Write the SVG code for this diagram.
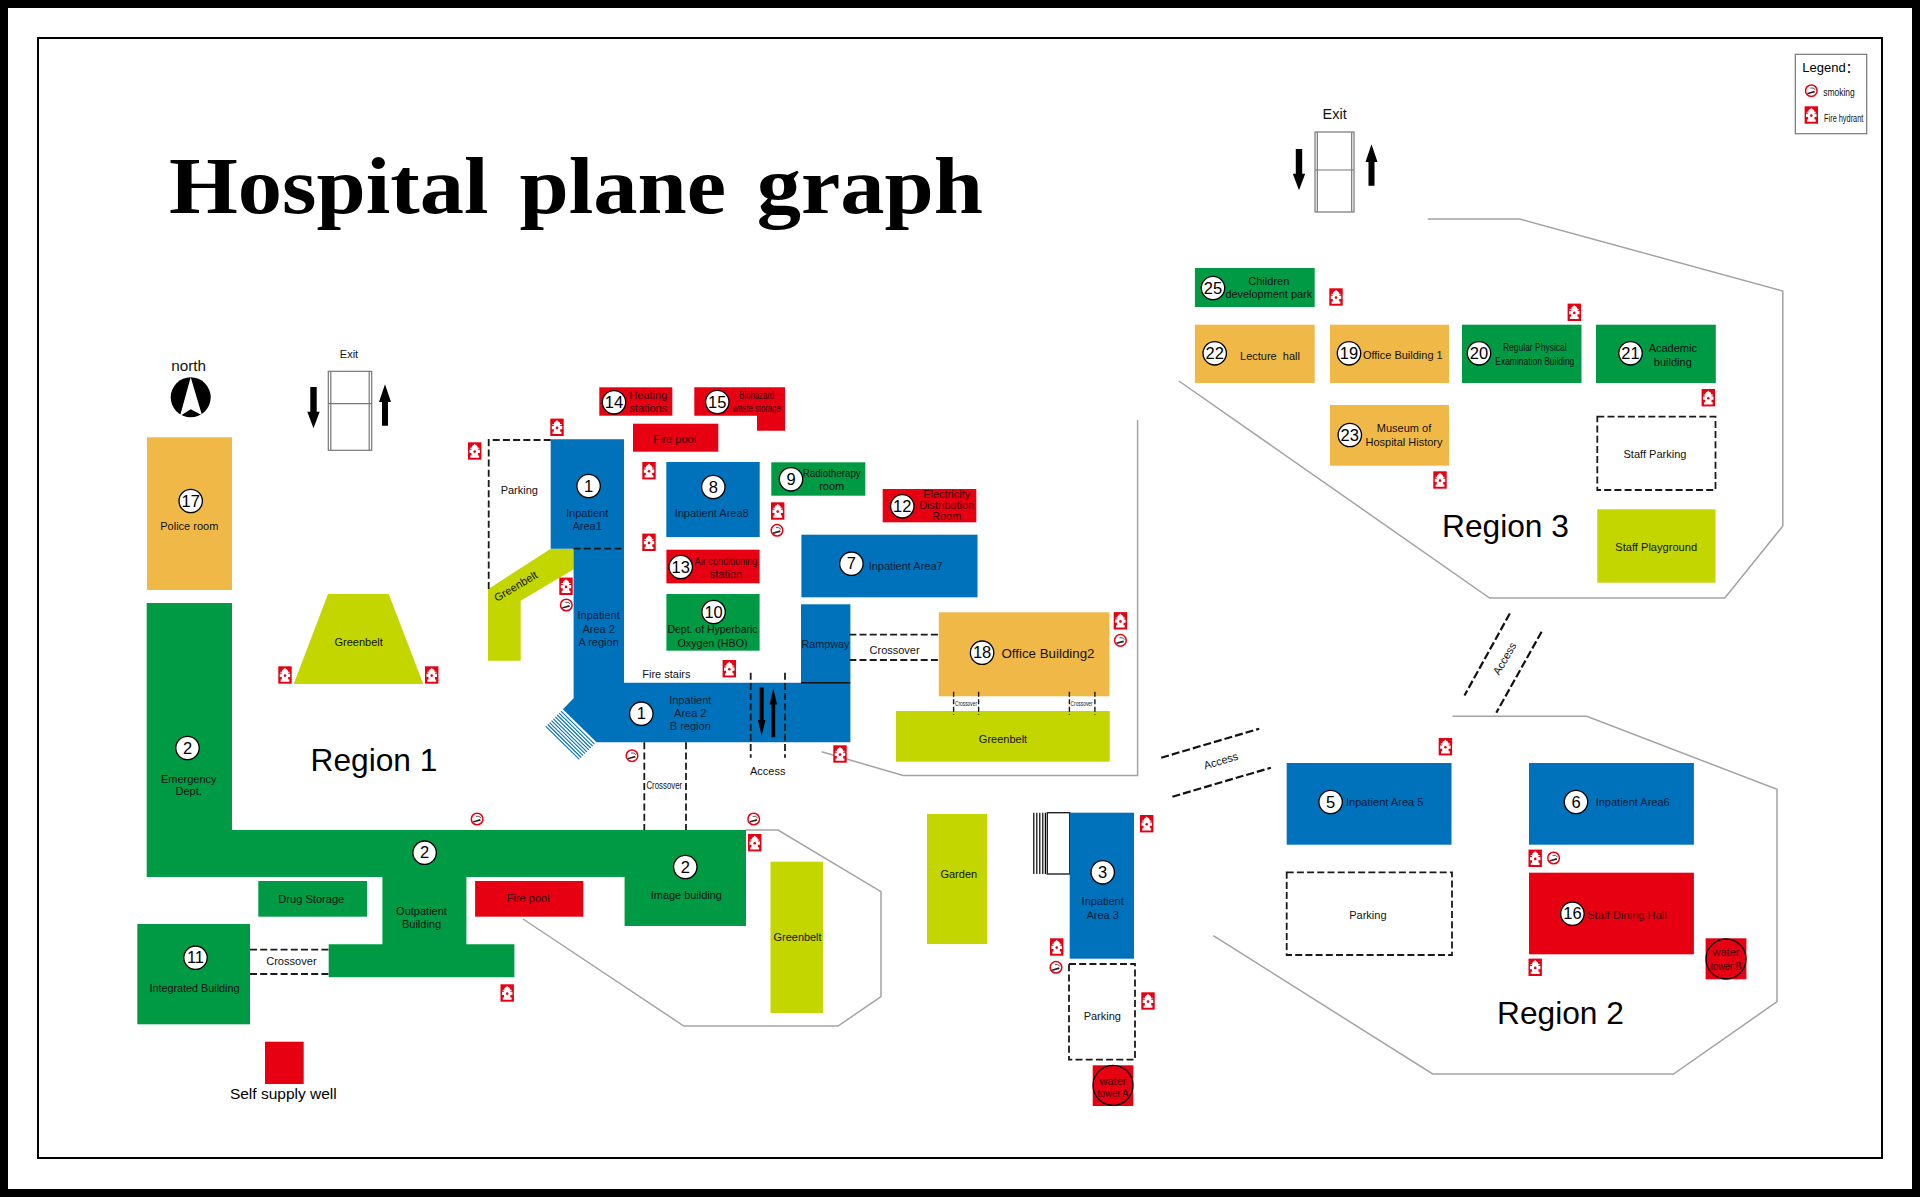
<svg xmlns="http://www.w3.org/2000/svg" xmlns:xlink="http://www.w3.org/1999/xlink" width="1920" height="1197" viewBox="0 0 1920 1197">
<style>
text{font-family:"Liberation Sans",Arial,sans-serif;font-size:11px;fill:#111;text-anchor:middle}
.blue{fill:#0072bc}.green{fill:#009a44}.orange{fill:#f0b947}.olive{fill:#c3d600}.red{fill:#e60012}
.onb{fill:#08203a}.onr{fill:#3a060c}
.num{font-size:16.5px;fill:#000}
.badge{fill:#fff;stroke:#000;stroke-width:1.3}
.region{font-size:31.7px;fill:#000}
.gray{fill:none;stroke:#a3a3a3;stroke-width:1.5}
.dash{fill:none;stroke:#1a1a1a;stroke-width:1.8;stroke-dasharray:7 3.2}
.dashs{fill:none;stroke:#1a1a1a;stroke-width:1.4;stroke-dasharray:5 2.5}
.dashb{fill:none;stroke:#111;stroke-width:2.2;stroke-dasharray:8 3}
.door{fill:#fff;stroke:#777;stroke-width:1.2}
.tower{fill:none;stroke:#000;stroke-width:1.3}
</style>
<defs>
<g id="hyd"><rect x="-6.7" y="-8.7" width="13.4" height="17.4" fill="#e60012"/><path fill="#fff" d="M0,-7.2L1,-6C2.5,-5.6 3,-4.5 3,-3.2H4.6V-2.2H3.2V-1.2H5.2V2H3.2V4.5H4.4V6.8H-4.4V4.5H-3.2V2H-5.2V-1.2H-3.2V-2.2H-4.6V-3.2H-3C-3,-4.5 -2.5,-5.6 -1,-6Z"/><circle cy="0.6" r="1.3" fill="#e60012"/></g>
<g id="smk"><circle r="5.8" fill="#fff" stroke="#e60012" stroke-width="1.5"/><path d="M-4.2,2.2L3,0L3.6,1.8L-3.6,3.6Z" fill="#222"/><path d="M-1,-2.6Q2,-3.6 4,-1" fill="none" stroke="#555" stroke-width="1"/></g>
<g id="dn"><path d="M-3.2,-20.5H3.2V4.2H6.2L0,20.8L-6.2,4.2H-3.2Z" fill="#000"/></g>
<g id="up"><path d="M-3,20.7H3V-3H6L0,-20.7L-6,-3H-3Z" fill="#000"/></g>
</defs>
<rect width="1920" height="1197" fill="#fff"/>
<rect x="4" y="4" width="1912" height="1189" fill="none" stroke="#000" stroke-width="8"/>
<rect x="38" y="38" width="1844" height="1120" fill="none" stroke="#000" stroke-width="2"/>
<text x="169" y="212.7" style="font-family:'Liberation Serif',serif;font-weight:bold;font-size:81px;fill:#000;text-anchor:start;word-spacing:8px" textLength="814" lengthAdjust="spacingAndGlyphs">Hospital plane graph</text>

<g id="region-outlines">
<polyline class="gray" points="821.7,751.7 903,775.5 1137.6,775.5 1137.6,420"/>
<polyline class="gray" points="745.5,830 778,830 881,891.7 881,996.7 838,1026 683.8,1026 523,919"/>
<polyline class="gray" points="1452.6,716.3 1586.7,716.3 1777,789.3 1777,1001.7 1673.5,1074 1432.7,1074 1213.3,935.7"/>
<polyline class="gray" points="1427.8,219 1519.6,219 1782.8,291 1782.8,526 1724.8,598 1489.6,598 1178.9,381"/>
</g>

<g id="north"><text x="188.7" y="371" style="font-size:15.3px">north</text><circle cx="190.7" cy="397.3" r="20" fill="#000"/><path d="M190.7,377.3L180,416L190.7,409.3L202,415.3Z" fill="#fff"/></g>
<g id="exit-1"><text x="349" y="358" style="font-size:11px">Exit</text><rect class="door" x="328.3" y="371.3" width="43.4" height="79"/><path class="door" d="M330.8,371.3V450.3M369.2,371.3V450.3M328.3,403.7H371.7"/><use xlink:href="#dn" href="#dn" x="313.5" y="407.5"/><use xlink:href="#up" href="#up" x="385" y="405"/></g>
<g id="exit-2"><text x="1334.7" y="118.5" style="font-size:14.5px">Exit</text><rect class="door" x="1315" y="132" width="39" height="80"/><path class="door" d="M1317.3,132V212M1351.7,132V212M1315,170H1354"/><use xlink:href="#dn" href="#dn" x="1299" y="169.5"/><use xlink:href="#up" href="#up" x="1371.5" y="165"/></g>

<g id="node-17"><rect class="orange" x="147" y="437.3" width="85" height="152.7"/><circle class="badge" cx="190.7" cy="501" r="11.7"/><text class="num" x="190.7" y="506.7">17</text><text x="189.3" y="529.5">Police room</text></g>
<g id="greenbelt-trapezoid"><path class="olive" d="M328,594H388.7L423.3,684H293.7Z"/><text x="358.7" y="645.8">Greenbelt</text></g>
<g id="greenbelt-strip"><path class="olive" d="M550.7,548.7H573.7V569.3L520.7,600.7V660.7H488V589.3Z"/><text transform="translate(517.7,589.5) rotate(-31)">Greenbelt</text></g>
<g id="node-2"><path class="green" d="M146.7,603H232V830H746V926H624.6V877H466.4V944.3H514.4V977.3H328.7V944.3H382.4V877H146.7Z"/>
<circle class="badge" cx="187.5" cy="748" r="11.7"/><text class="num" x="187.5" y="753.7">2</text><text x="188.7" y="782.7">Emergency</text><text x="188.7" y="795.2">Dept.</text>
<circle class="badge" cx="424.6" cy="852.7" r="11.7"/><text class="num" x="424.6" y="858.4">2</text><text x="421.5" y="914.8">Outpatient</text><text x="421.5" y="928.1">Building</text>
<circle class="badge" cx="685.3" cy="867" r="11.7"/><text class="num" x="685.3" y="872.7">2</text><text x="686.3" y="898.5" textLength="71" lengthAdjust="spacingAndGlyphs">Image building</text></g>
<g id="node-1"><path class="blue" d="M550.7,439.3H624V682.7H850.4V742.3H596.4L562.9,709.3L573.6,698.3V548.7H550.7Z"/>
<path d="M561,711.2L594.5,744.2M559.1,713.1L592.6,746.1M557.2,715L590.7,748M555.3,716.9L588.8,749.9M553.4,718.8L586.9,751.8M551.5,720.7L585,753.7M549.6,722.6L583.1,755.6M547.7,724.5L581.2,757.5M545.8,726.4L579.3,759.4" stroke="#0072bc" stroke-width="1.1" fill="none"/>
<circle class="badge" cx="588.6" cy="486" r="11.7"/><text class="num" x="588.6" y="491.7">1</text><text class="onb" x="587.1" y="516.5">Inpatient</text><text class="onb" x="587.1" y="529.8">Area1</text>
<text class="onb" x="598.6" y="619.1">Inpatient</text><text class="onb" x="598.6" y="632.5">Area 2</text><text class="onb" x="598.6" y="645.8">A region</text>
<circle class="badge" cx="641.3" cy="713.7" r="11.7"/><text class="num" x="641.3" y="719.4">1</text><text class="onb" x="690.3" y="703.5">Inpatient</text><text class="onb" x="690.3" y="716.8">Area 2</text><text class="onb" x="690.3" y="729.8">B region</text>
<path d="M759.7,687.3H763.7V720H765.5L761.7,736L757.9,720H759.7Z" fill="#000"/><path d="M771.4,737.3H775.2V704.5H777L773.3,688.3L769.6,704.5H771.4Z" fill="#000"/></g>
<g id="rampway"><rect class="blue" x="801" y="604.3" width="49.4" height="78.4"/><path d="M801,682.7H850.4" stroke="#111" stroke-width="1.4"/><text class="onb" x="825.4" y="647.8" textLength="48" lengthAdjust="spacingAndGlyphs">Rampway</text></g>
<g id="fire-stairs"><text x="666.4" y="677.8">Fire stairs</text></g>
<g id="access-label-1"><text x="767.7" y="774.8">Access</text></g>

<g id="node-14"><rect class="red" x="599.3" y="387.3" width="73" height="28.4"/><circle class="badge" cx="614" cy="402.3" r="11.7"/><text class="num" x="614" y="408">14</text><text class="onr" x="648.3" y="398.8">Heating</text><text class="onr" x="648.3" y="412.1">stations</text></g>
<g id="node-15"><path class="red" d="M694.3,387.3H785V430.7H757V415.7H694.3Z"/><circle class="badge" cx="717.3" cy="402" r="11.7"/><text class="num" x="717.3" y="407.7">15</text><text class="onr" x="756.7" y="398.8" textLength="34.7" lengthAdjust="spacingAndGlyphs">Biohazard</text><text class="onr" x="756.7" y="411.5" textLength="48" lengthAdjust="spacingAndGlyphs">waste storage</text></g>
<g id="fire-pool-1"><rect class="red" x="633" y="423.7" width="85.3" height="28"/><text class="onr" x="674.7" y="442.5">Fire pool</text></g>
<g id="node-8"><rect class="blue" x="666.3" y="462" width="93.4" height="75"/><circle class="badge" cx="713.3" cy="487" r="11.7"/><text class="num" x="713.3" y="492.7">8</text><text class="onb" x="711.7" y="516.8">Inpatient Area8</text></g>
<g id="node-9"><rect class="green" x="771.3" y="462.3" width="94" height="33.4"/><circle class="badge" cx="791" cy="479.3" r="11.7"/><text class="num" x="791" y="485">9</text><text x="831.7" y="477.1" textLength="58" lengthAdjust="spacingAndGlyphs">Radiotherapy</text><text x="831.7" y="490.1">room</text></g>
<g id="node-12"><rect class="red" x="882.7" y="489" width="93.6" height="33.3"/><circle class="badge" cx="902.3" cy="506.3" r="11.7"/><text class="num" x="902.3" y="512">12</text><text class="onr" x="946.7" y="497.5">Electricity</text><text class="onr" x="946.7" y="508.5">Distribution</text><text class="onr" x="946.7" y="520.1">Room</text></g>
<g id="node-7"><rect class="blue" x="801.4" y="534.7" width="176.1" height="62.6"/><circle class="badge" cx="851.4" cy="563.7" r="11.7"/><text class="num" x="851.4" y="569.4">7</text><text class="onb" x="905.7" y="570.1">Inpatient Area7</text></g>
<g id="node-13"><rect class="red" x="666.4" y="549.7" width="93.2" height="33.6"/><circle class="badge" cx="680.7" cy="567" r="11.7"/><text class="num" x="680.7" y="572.7">13</text><text class="onr" x="726" y="564.8" textLength="63" lengthAdjust="spacingAndGlyphs">Air conditioning</text><text class="onr" x="726" y="577.8">station</text></g>
<g id="node-10"><rect class="green" x="666.4" y="594" width="93.2" height="56.7"/><circle class="badge" cx="713.6" cy="612" r="11.7"/><text class="num" x="713.6" y="617.7">10</text><text x="712.5" y="633.1" textLength="90" lengthAdjust="spacingAndGlyphs">Dept. of Hyperbaric</text><text x="712.5" y="646.5" textLength="70" lengthAdjust="spacingAndGlyphs">Oxygen (HBO)</text></g>
<g id="node-18"><rect class="orange" x="938.8" y="612.3" width="170.6" height="84"/><circle class="badge" cx="982.1" cy="652.7" r="11.7"/><text class="num" x="982.1" y="658.4">18</text><text x="1048" y="658" style="font-size:12.5px" textLength="93" lengthAdjust="spacingAndGlyphs">Office Building2</text></g>
<g id="greenbelt-office"><rect class="olive" x="896" y="711" width="213.7" height="50.7"/><text x="1003" y="743.4">Greenbelt</text></g>

<g id="drug-storage"><rect class="green" x="258.3" y="881" width="108.7" height="35.7"/><text x="311.3" y="902.8" textLength="66" lengthAdjust="spacingAndGlyphs">Drug Storage</text></g>
<g id="fire-pool-2"><rect class="red" x="475.1" y="881" width="108.2" height="35.7"/><text class="onr" x="528.2" y="902.1" textLength="43" lengthAdjust="spacingAndGlyphs">Fire pool</text></g>
<g id="node-11"><rect class="green" x="137.3" y="924" width="112.7" height="100.3"/><circle class="badge" cx="195.5" cy="957.7" r="11.7"/><text class="num" x="195.5" y="963.4">11</text><text x="194.5" y="991.8" textLength="90" lengthAdjust="spacingAndGlyphs">Integrated Building</text></g>
<g id="greenbelt-right"><rect class="olive" x="770.5" y="861.7" width="52.5" height="151.3"/><text x="797.6" y="940.8" textLength="48" lengthAdjust="spacingAndGlyphs">Greenbelt</text></g>
<g id="self-supply-well"><rect class="red" x="265" y="1041.7" width="38.7" height="42.3"/><text x="283.3" y="1098.5" style="font-size:15.5px;fill:#000">Self supply well</text></g>
<g id="garden"><rect class="olive" x="927" y="814" width="60" height="130"/><text x="958.8" y="878.1">Garden</text></g>

<g id="node-3"><rect x="1047.3" y="812.7" width="22.4" height="61.3" fill="#fff" stroke="#222" stroke-width="1.4"/><path d="M1033.8,812.7V874M1036.8,812.7V874M1039.8,812.7V874M1042.8,812.7V874M1045.4,812.7V874" stroke="#000" stroke-width="1.2"/><rect class="blue" x="1069.7" y="812.7" width="64.3" height="146"/><circle class="badge" cx="1102.7" cy="872.3" r="11.7"/><text class="num" x="1102.7" y="878">3</text><text class="onb" x="1102.7" y="905.1">Inpatient</text><text class="onb" x="1102.7" y="918.5">Area 3</text></g>
<g id="parking-3"><rect class="dash" x="1069" y="964" width="66" height="95.7"/><text x="1102.3" y="1020.1">Parking</text></g>
<g id="tower-a"><rect class="red" x="1092.7" y="1065.3" width="40.6" height="40.7"/><circle class="tower" cx="1113" cy="1085.3" r="20"/><text class="onr" x="1113" y="1084.5">water</text><text class="onr" x="1113" y="1097.1" textLength="31" lengthAdjust="spacingAndGlyphs">tower A</text></g>
<g id="node-5"><rect class="blue" x="1286.7" y="763" width="164.8" height="81.7"/><circle class="badge" cx="1330.6" cy="802" r="11.7"/><text class="num" x="1330.6" y="807.7">5</text><text class="onb" x="1384.7" y="805.8" textLength="77.5" lengthAdjust="spacingAndGlyphs">Inpatient Area 5</text></g>
<g id="node-6"><rect class="blue" x="1529" y="763" width="164.9" height="81.7"/><circle class="badge" cx="1576" cy="802" r="11.7"/><text class="num" x="1576" y="807.7">6</text><text class="onb" x="1632.7" y="805.8" textLength="74" lengthAdjust="spacingAndGlyphs">Inpatient Area6</text></g>
<g id="node-16"><rect class="red" x="1529" y="872.7" width="164.9" height="81.6"/><circle class="badge" cx="1572.4" cy="913.7" r="11.7"/><text class="num" x="1572.4" y="919.4">16</text><text class="onr" x="1627" y="918.5" textLength="79.6" lengthAdjust="spacingAndGlyphs">Staff Dining Hall</text></g>
<g id="tower-b"><rect class="red" x="1705.6" y="938.3" width="40.8" height="41"/><circle class="tower" cx="1726" cy="959" r="20"/><text class="onr" x="1726" y="956.1">water</text><text class="onr" x="1726" y="969.5" textLength="31" lengthAdjust="spacingAndGlyphs">tower B</text></g>
<g id="parking-2"><rect class="dash" x="1286.7" y="872.3" width="165.3" height="82.7"/><text x="1367.9" y="918.8">Parking</text></g>

<g id="node-25"><rect class="green" x="1194.9" y="268" width="119.8" height="39"/><circle class="badge" cx="1213" cy="288" r="11.7"/><text class="num" x="1213" y="293.7">25</text><text x="1268.8" y="284.5">Children</text><text x="1268.8" y="297.8" textLength="86.6" lengthAdjust="spacingAndGlyphs">development park</text></g>
<g id="node-22"><rect class="orange" x="1194.9" y="324.7" width="119.8" height="58.3"/><circle class="badge" cx="1214.7" cy="353.3" r="11.7"/><text class="num" x="1214.7" y="359">22</text><text x="1270" y="359.8" xml:space="preserve">Lecture  hall</text></g>
<g id="node-19"><rect class="orange" x="1330" y="324.7" width="119" height="58.3"/><circle class="badge" cx="1349" cy="353.3" r="11.7"/><text class="num" x="1349" y="359">19</text><text x="1402.8" y="358.8" textLength="79.8" lengthAdjust="spacingAndGlyphs">Office Building 1</text></g>
<g id="node-20"><rect class="green" x="1462" y="324.7" width="119.5" height="58.3"/><circle class="badge" cx="1479" cy="353.3" r="11.7"/><text class="num" x="1479" y="359">20</text><text x="1534.8" y="351.1" textLength="63.6" lengthAdjust="spacingAndGlyphs">Regular Physical</text><text x="1534.8" y="364.5" textLength="79" lengthAdjust="spacingAndGlyphs">Examination Building</text></g>
<g id="node-21"><rect class="green" x="1596" y="324.7" width="119.8" height="58.3"/><circle class="badge" cx="1630.5" cy="353.3" r="11.7"/><text class="num" x="1630.5" y="359">21</text><text x="1672.8" y="352.1">Academic</text><text x="1672.8" y="365.5">building</text></g>
<g id="node-23"><rect class="orange" x="1330" y="405" width="119" height="60.7"/><circle class="badge" cx="1349.8" cy="435" r="11.7"/><text class="num" x="1349.8" y="440.7">23</text><text x="1404" y="432.1">Museum of</text><text x="1404" y="445.5" textLength="77" lengthAdjust="spacingAndGlyphs">Hospital History</text></g>
<g id="staff-parking"><rect class="dash" x="1597.3" y="416.7" width="118.2" height="73.3"/><text x="1655" y="457.5" textLength="63" lengthAdjust="spacingAndGlyphs">Staff Parking</text></g>
<g id="staff-playground"><rect class="olive" x="1597.3" y="509.3" width="118.2" height="73.4"/><text x="1656.2" y="550.5" textLength="81.8" lengthAdjust="spacingAndGlyphs">Staff Playground</text></g>
<g id="parking-1"><text x="519.3" y="493.5">Parking</text></g>

<g id="connectors">
<path class="dash" d="M550.7,440H488.7V590"/>
<path class="dash" d="M573.6,548.7H624"/>
<path class="dash" d="M750.7,672.7V757.7M785,672.7V757.7"/>
<path class="dash" d="M644.3,742.3V830M686,742.3V830"/>
<path class="dash" d="M849.3,634.7H939.3M849.3,660H939.3"/>
<path class="dash" d="M250,949.7H328.7M250,974H328.7"/>
<path class="dashs" d="M953.6,691.7V715M978.6,691.7V715M1069.4,691.7V715M1094.9,691.7V715"/>
<path class="dashb" d="M1161.2,757.7L1259.2,728.7M1172.4,796.7L1270.9,767.7"/>
<path class="dashb" d="M1509.8,613.5L1464.5,695.5M1541.6,631.8L1496.3,712.7"/>
<text x="664.3" y="788.5" textLength="35.7" lengthAdjust="spacingAndGlyphs">Crossover</text>
<text x="894.6" y="653.5">Crossover</text>
<text x="291.4" y="965.1" textLength="50.5" lengthAdjust="spacingAndGlyphs">Crossover</text>
<text x="966" y="705.5" style="font-size:6.5px" textLength="22" lengthAdjust="spacingAndGlyphs">Crossover</text>
<text x="1081.6" y="705.5" style="font-size:6.5px" textLength="22" lengthAdjust="spacingAndGlyphs">Crossover</text>
<text transform="translate(1221.9,764.5) rotate(-16.5)">Access</text>
<text transform="translate(1507.9,660.5) rotate(-60)">Access</text>
</g>

<g id="fire-hydrants">
<use xlink:href="#hyd" href="#hyd" x="285" y="675"/><use xlink:href="#hyd" href="#hyd" x="431.7" y="675"/><use xlink:href="#hyd" href="#hyd" x="557" y="427.3"/><use xlink:href="#hyd" href="#hyd" x="474.7" y="451"/><use xlink:href="#hyd" href="#hyd" x="566" y="586.3"/>
<use xlink:href="#hyd" href="#hyd" x="649" y="470.7"/><use xlink:href="#hyd" href="#hyd" x="649" y="542.3"/><use xlink:href="#hyd" href="#hyd" x="777.7" y="511"/><use xlink:href="#hyd" href="#hyd" x="729.3" y="668.7"/><use xlink:href="#hyd" href="#hyd" x="840" y="754"/>
<use xlink:href="#hyd" href="#hyd" x="754.7" y="842.7"/><use xlink:href="#hyd" href="#hyd" x="507.2" y="993"/><use xlink:href="#hyd" href="#hyd" x="1120.4" y="620.8"/><use xlink:href="#hyd" href="#hyd" x="1146.7" y="823.7"/><use xlink:href="#hyd" href="#hyd" x="1056.7" y="947"/><use xlink:href="#hyd" href="#hyd" x="1148" y="1001"/>
<use xlink:href="#hyd" href="#hyd" x="1445.4" y="746.7"/><use xlink:href="#hyd" href="#hyd" x="1535.2" y="858.3"/><use xlink:href="#hyd" href="#hyd" x="1535.2" y="967.3"/><use xlink:href="#hyd" href="#hyd" x="1336" y="297"/><use xlink:href="#hyd" href="#hyd" x="1574.3" y="312.3"/><use xlink:href="#hyd" href="#hyd" x="1708.3" y="397.7"/><use xlink:href="#hyd" href="#hyd" x="1440" y="480"/>
</g>
<g id="smoking-signs">
<use xlink:href="#smk" href="#smk" x="566.3" y="605"/><use xlink:href="#smk" href="#smk" x="777" y="530.3"/><use xlink:href="#smk" href="#smk" x="632" y="755.7"/><use xlink:href="#smk" href="#smk" x="753.7" y="819"/><use xlink:href="#smk" href="#smk" x="477.1" y="819"/><use xlink:href="#smk" href="#smk" x="1120.4" y="640.4"/><use xlink:href="#smk" href="#smk" x="1056" y="967.3"/><use xlink:href="#smk" href="#smk" x="1553.6" y="858"/>
</g>

<g id="region-labels">
<text class="region" x="374" y="771">Region 1</text>
<text class="region" x="1560.5" y="1024">Region 2</text>
<text class="region" x="1505.5" y="537">Region 3</text>
</g>

<g id="legend"><rect x="1795.3" y="54.3" width="71.4" height="79.4" fill="#fff" stroke="#777" stroke-width="1.2"/>
<text x="1802.3" y="72" style="font-size:13px;text-anchor:start;font-family:'Liberation Sans','Noto Sans CJK SC',sans-serif;fill:#000">Legend：</text>
<use xlink:href="#smk" href="#smk" x="1811.3" y="90.7"/><text x="1839" y="96" style="font-size:10.5px" textLength="31.7" lengthAdjust="spacingAndGlyphs">smoking</text>
<use xlink:href="#hyd" href="#hyd" x="1811.3" y="115"/><text x="1843.7" y="121.7" style="font-size:10.5px" textLength="39.3" lengthAdjust="spacingAndGlyphs">Fire hydrant</text></g>
</svg>
